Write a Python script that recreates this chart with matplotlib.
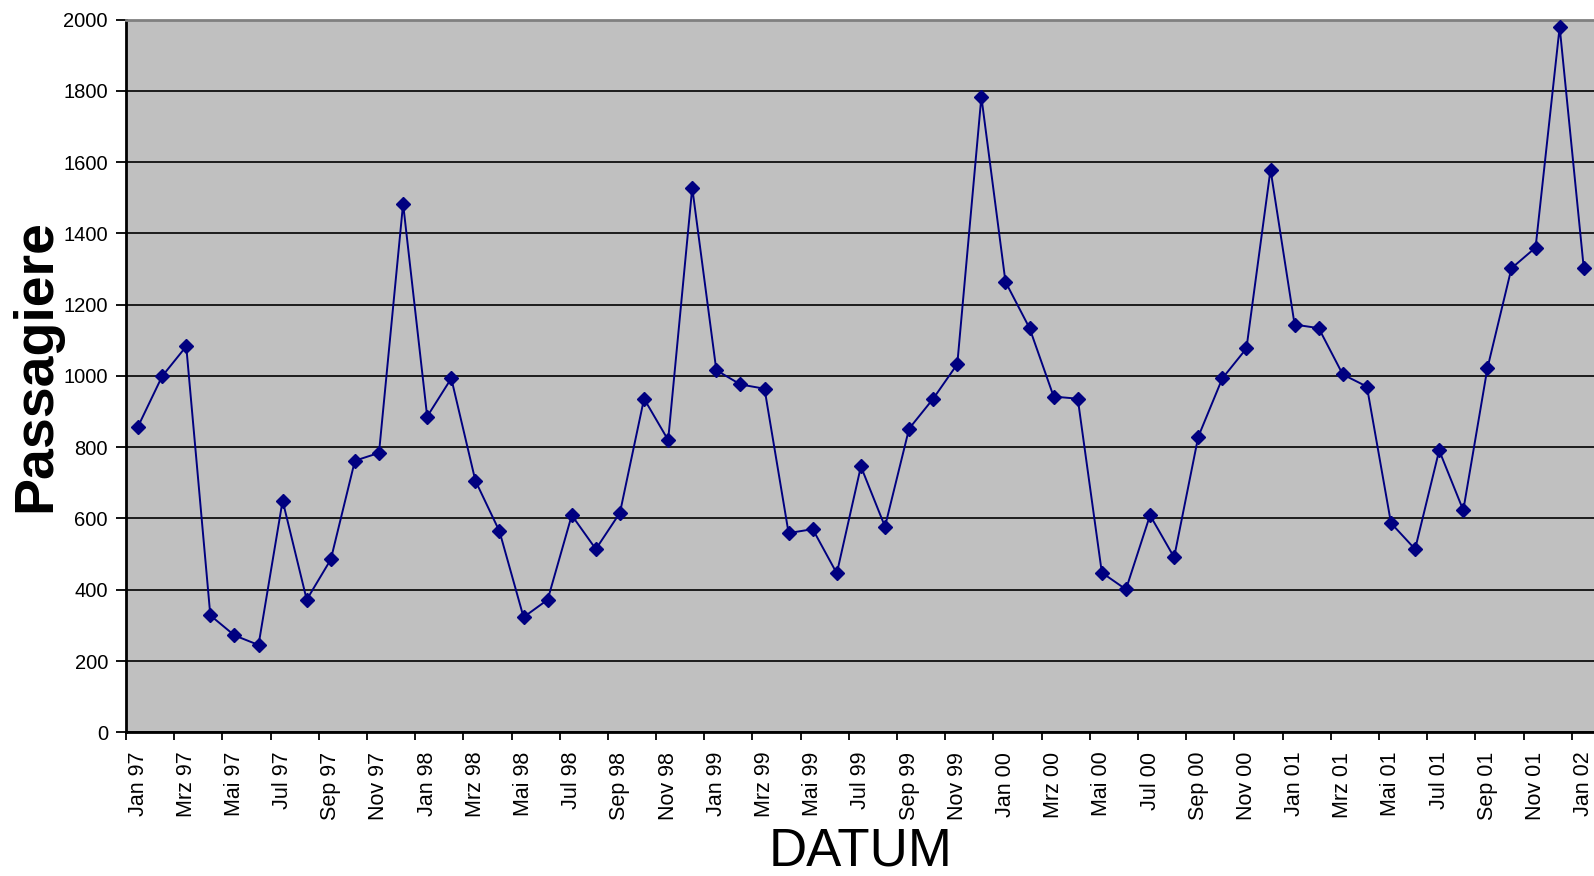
import matplotlib
matplotlib.use("Agg")
import matplotlib.pyplot as plt
from matplotlib.ticker import FixedLocator, NullFormatter

plt.rcParams['font.family'] = ['Liberation Sans', 'DejaVu Sans']

months = ["Jan", "Feb", "Mrz", "Apr", "Mai", "Jun", "Jul", "Aug", "Sep", "Okt", "Nov", "Dez"]
years = ["97", "98", "99", "00", "01", "02"]
categories = [f"{m} {y}" for y in years[:5] for m in months] + ["Jan 02"]

passagiere = [
    858, 999, 1083, 328, 272, 245, 650, 372, 485, 762, 784, 1483,   # 1997
    886, 993, 706, 564, 323, 372, 609, 514, 616, 936, 820, 1528,    # 1998
    1016, 976, 964, 559, 570, 446, 746, 577, 852, 936, 1033, 1783,  # 1999
    1264, 1134, 942, 936, 448, 401, 609, 491, 829, 993, 1077, 1579, # 2000
    1144, 1134, 1004, 970, 587, 514, 791, 623, 1021, 1302, 1360, 1979, # 2001
    1303,                                                           # Jan 02
]

yticks = [0, 200, 400, 600, 800, 1000, 1200, 1400, 1600, 1800, 2000]

W, H = 1594, 876
fig = plt.figure(figsize=(W / 100, H / 100), dpi=100)
left, right = 126 / W, 1595.8 / W
bottom, top = (H - 732.3) / H, (H - 19.5) / H
ax = fig.add_axes([left, bottom, right - left, top - bottom])
ax.set_facecolor("#C0C0C0")

x = list(range(len(passagiere)))
ax.plot(x, passagiere, color="#000080", lw=1.4, marker="D", ms=6.8,
        markerfacecolor="#000080", markeredgecolor="#000080", zorder=3, clip_on=False)

ax.set_xlim(-0.5, len(passagiere) - 0.5)
ax.set_ylim(0, 2000)

# y axis
ax.set_yticks(yticks)
ax.set_yticklabels([str(v) for v in yticks])
ax.tick_params(axis="y", direction="out", length=7, width=1.3, pad=6,
               labelsize=14.5, colors="black")
ax.yaxis.grid(True, color="black", lw=1.2)
ax.set_axisbelow(True)

# x axis: ticks at category boundaries every 2 months, labels centred on categories
major = [i - 0.5 for i in range(0, len(passagiere), 2)]
ax.xaxis.set_major_locator(FixedLocator(major))
ax.xaxis.set_major_formatter(NullFormatter())
lab_pos = list(range(0, len(passagiere), 2))
ax.xaxis.set_minor_locator(FixedLocator(lab_pos))
ax.set_xticklabels([categories[i] for i in lab_pos], minor=True, rotation=90,
                   fontsize=15.5, va="top", ha="center")
ax.tick_params(axis="x", which="major", direction="out", length=6, width=1.3)
ax.tick_params(axis="x", which="minor", length=0, pad=14)

for s in ["left", "bottom"]:
    ax.spines[s].set_color("black")
    ax.spines[s].set_linewidth(2)
ax.spines["top"].set_color("#808080")
ax.spines["top"].set_linewidth(2)
ax.spines["right"].set_visible(False)

# axis titles
fig.text((126 + 1596) / 2 / W, (H - 852) / H, "DATUM", fontsize=38,
         ha="center", va="center", color="black")
fig.text(36 / W, (H - 366) / H, "Passagiere", fontsize=40, fontweight="bold",
         rotation=90, ha="center", va="center", color="black")

fig.savefig("out.png", dpi=100)
